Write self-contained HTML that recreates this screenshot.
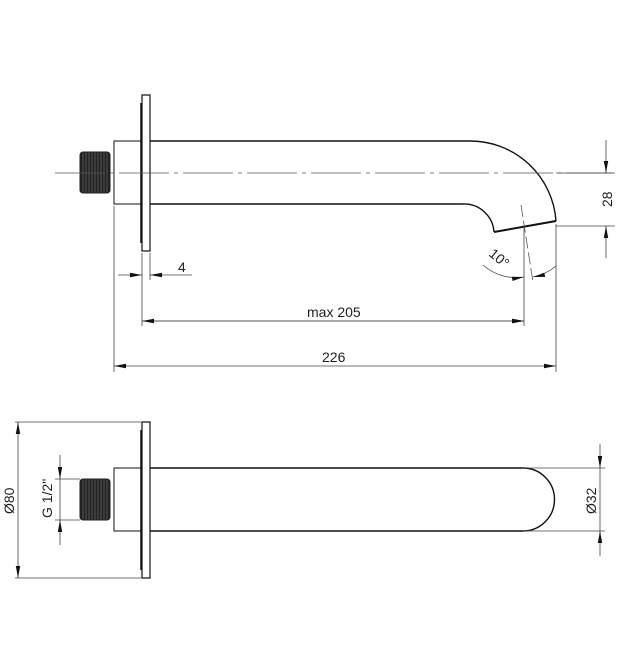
<!DOCTYPE html>
<html><head><style>body{margin:0;background:#fff}svg{display:block}text{font-family:"Liberation Sans",sans-serif;font-size:14px;fill:#222}</style></head><body>
<svg width="625" height="670" viewBox="0 0 625 670">
<defs>
<marker id="a" markerWidth="12" markerHeight="6" refX="12" refY="3" orient="auto" markerUnits="userSpaceOnUse"><path d="M0,0.8 L12,3 L0,5.2z" fill="#111"/></marker>
<pattern id="th" width="3" height="4" patternUnits="userSpaceOnUse"><rect width="3" height="4" fill="#222"/><line x1="2" y1="0" x2="2" y2="4" stroke="#777" stroke-width="0.6"/></pattern>
</defs>
<g fill="none" stroke="#111">
<!-- top view -->
<rect x="142" y="95" width="8" height="156" stroke-width="1.2"/>
<line x1="141" y1="103" x2="141" y2="243" stroke-width="1.5"/>
<rect x="114" y="141" width="28" height="63"/>
<rect x="80" y="152" width="30" height="41" rx="3" fill="url(#th)" stroke="#222"/>
<path d="M150,141 H470 A86,86 0 0 1 556,221" stroke-width="1.4"/>
<path d="M150,204 H463 A30,30 0 0 1 494,232" stroke-width="1.4"/>
<line x1="494" y1="232" x2="556" y2="221" stroke-width="2"/>
<line x1="55" y1="173" x2="612" y2="173" stroke="#555" stroke-width="0.8" stroke-dasharray="50,5,4,5"/>
<line x1="521" y1="205" x2="533" y2="282" stroke="#555" stroke-width="0.8" stroke-dasharray="12,4"/>
<g stroke="#444" stroke-width="0.8">
<line x1="556" y1="173" x2="615" y2="173"/>
<line x1="556" y1="226" x2="615" y2="226"/>
<line x1="114" y1="206" x2="114" y2="372"/>
<line x1="142" y1="253" x2="142" y2="326"/>
<line x1="150" y1="253" x2="150" y2="280"/>
<line x1="524" y1="228" x2="524" y2="326"/>
<line x1="556" y1="224" x2="556" y2="372"/>
<line x1="606" y1="140" x2="606" y2="173" marker-end="url(#a)"/>
<line x1="606" y1="258" x2="606" y2="226" marker-end="url(#a)"/>
<line x1="118" y1="275" x2="142" y2="275" marker-end="url(#a)"/>
<line x1="192" y1="275" x2="150" y2="275" marker-end="url(#a)"/>
<line x1="142" y1="321" x2="524" y2="321" marker-start="url(#a)" marker-end="url(#a)" style="marker-start:none"/>
<line x1="330" y1="321" x2="142" y2="321" marker-end="url(#a)"/>
<line x1="330" y1="321" x2="524" y2="321" marker-end="url(#a)"/>
<line x1="330" y1="366" x2="114" y2="366" marker-end="url(#a)"/>
<line x1="330" y1="366" x2="556" y2="366" marker-end="url(#a)"/>
<path d="M483,265 A50,50 0 0 0 524,277" marker-end="url(#a)"/>
<path d="M556,266 A50,50 0 0 1 533,277" marker-end="url(#a)"/>
</g>
<!-- bottom view -->
<rect x="142" y="422" width="8" height="156" stroke-width="1.2"/>
<line x1="141" y1="430" x2="141" y2="570" stroke-width="1.5"/>
<rect x="114" y="468" width="28" height="63"/>
<rect x="80" y="479" width="30" height="41" rx="3" fill="url(#th)" stroke="#222"/>
<path d="M150,468 H523 A31.5,31.5 0 0 1 523,531 H150" stroke-width="1.4"/>
<g stroke="#444" stroke-width="0.8">
<line x1="15" y1="422" x2="141" y2="422"/>
<line x1="15" y1="578" x2="141" y2="578"/>
<line x1="18" y1="500" x2="18" y2="422" marker-end="url(#a)"/>
<line x1="18" y1="500" x2="18" y2="578" marker-end="url(#a)"/>
<line x1="55" y1="479" x2="80" y2="479"/>
<line x1="55" y1="520" x2="80" y2="520"/>
<line x1="60" y1="455" x2="60" y2="479" marker-end="url(#a)"/>
<line x1="60" y1="545" x2="60" y2="520" marker-end="url(#a)"/>
<line x1="60" y1="479" x2="60" y2="520"/>
<line x1="523" y1="468" x2="605" y2="468"/>
<line x1="523" y1="531" x2="605" y2="531"/>
<line x1="600" y1="444" x2="600" y2="468" marker-end="url(#a)"/>
<line x1="600" y1="556" x2="600" y2="531" marker-end="url(#a)"/>
<line x1="600" y1="468" x2="600" y2="531"/>
</g>
</g>
<text x="178" y="272">4</text>
<text x="307" y="317">max 205</text>
<text x="322" y="362">226</text>
<text transform="translate(612,207) rotate(-90)">28</text>
<text transform="translate(488,255) rotate(40)">10°</text>
<text transform="translate(14,514) rotate(-90)">Ø80</text>
<text transform="translate(52,518) rotate(-90)">G 1/2"</text>
<text transform="translate(596,514) rotate(-90)">Ø32</text>
</svg>
</body></html>
